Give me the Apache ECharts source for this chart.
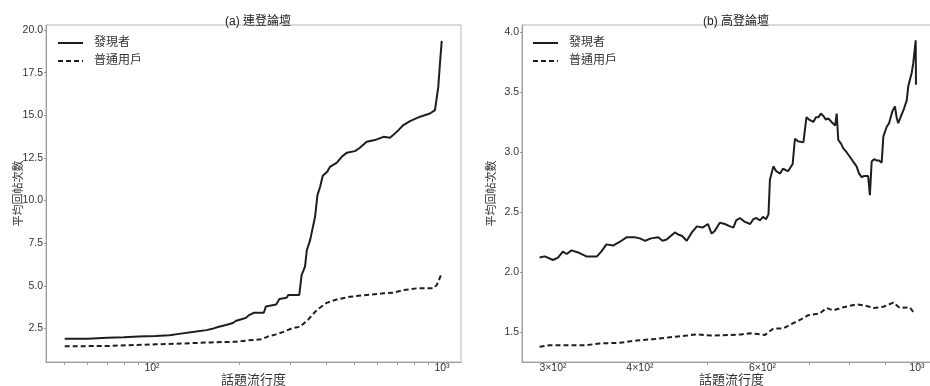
<!DOCTYPE html>
<html>
<head>
<meta charset="utf-8">
<script src="https://cdn.jsdelivr.net/npm/echarts@6/dist/echarts.min.js"></script>
<style>
  html, body { margin: 0; padding: 0; background: #fff; }
  #chart { width: 930px; height: 386px; }
</style>
</head>
<body>
<div id="chart"></div>
<script>
// Average reply count vs. topic popularity, two forums side by side.
const seriesNames = ['發現者', '普通用戶'];
const panelTitles = ['(a) 連登論壇', '(b) 高登論壇'];
const xAxisName = '話題流行度';
const yAxisName = '平均回帖次數';

// Panel (a): [popularity, average replies]
const lihkgDiscoverer = [
  [50, 1.90], [60, 1.90], [70, 1.95], [80, 1.98], [90, 2.02], [103, 2.05], [115, 2.10],
  [124, 2.18], [140, 2.30], [154, 2.40], [163, 2.50], [170, 2.60], [180, 2.70], [190, 2.82],
  [195, 2.95], [205, 3.05], [211, 3.12], [216, 3.28], [225, 3.42], [243, 3.42], [247, 3.78],
  [268, 3.90], [275, 4.22], [291, 4.30], [295, 4.46], [322, 4.46], [328, 5.63], [337, 6.12],
  [342, 7.10], [351, 7.68], [365, 9.05], [372, 10.32], [380, 10.81], [388, 11.45], [402, 11.69],
  [411, 11.98], [434, 12.22], [451, 12.57], [469, 12.80], [501, 12.90], [521, 13.10], [550, 13.45],
  [587, 13.55], [628, 13.74], [662, 13.68], [698, 14.03], [736, 14.43], [776, 14.66], [840, 14.92],
  [909, 15.11], [946, 15.31], [971, 16.67], [984, 18.04], [998, 19.37]
];
const lihkgRegular = [
  [50, 1.45], [70, 1.47], [103, 1.57], [130, 1.62], [160, 1.68], [196, 1.72], [215, 1.80],
  [239, 1.86], [253, 2.05], [268, 2.15], [284, 2.30], [303, 2.50], [324, 2.60], [346, 3.03],
  [370, 3.58], [400, 4.00], [434, 4.20], [482, 4.36], [550, 4.46], [628, 4.56], [679, 4.59],
  [736, 4.75], [818, 4.85], [933, 4.85], [959, 5.04], [998, 5.73]
];
const lihkgXLabelValues = [100, 1000];
const lihkgXLabels = ['10²', '10³'];
const lihkgXTickValues = [50, 60, 70, 80, 90, 100, 200, 300, 400, 500, 600, 700, 800, 900, 1000];
const lihkgYTicks = [2.5, 5, 7.5, 10, 12.5, 15, 17.5, 20];

// Panel (b): [popularity, average replies]
const hkgDiscoverer = [
  [287, 2.12], [292, 2.13], [300, 2.10], [305, 2.12], [310, 2.17], [314, 2.15], [319, 2.18],
  [327, 2.16], [335, 2.13], [347, 2.13], [352, 2.17], [358, 2.23], [366, 2.22], [374, 2.25],
  [383, 2.29], [393, 2.29], [400, 2.28], [407, 2.26], [415, 2.28], [425, 2.29], [431, 2.26],
  [437, 2.27], [449, 2.33], [455, 2.31], [460, 2.30], [467, 2.26], [475, 2.33], [483, 2.38],
  [492, 2.37], [501, 2.40], [507, 2.32], [512, 2.34], [521, 2.41], [530, 2.40], [539, 2.38],
  [545, 2.37], [550, 2.43], [557, 2.45], [565, 2.42], [576, 2.40], [582, 2.44], [588, 2.45],
  [595, 2.43], [601, 2.46], [607, 2.44], [612, 2.48], [615, 2.77], [622, 2.88], [628, 2.84],
  [636, 2.82], [642, 2.86], [646, 2.85], [653, 2.84], [663, 2.90], [668, 3.11], [675, 3.09],
  [687, 3.08], [694, 3.29], [700, 3.27], [710, 3.25], [716, 3.29], [722, 3.29], [728, 3.32],
  [734, 3.30], [740, 3.27], [746, 3.28], [754, 3.25], [763, 3.22], [767, 3.32], [771, 3.10],
  [778, 3.07], [784, 3.03], [792, 3.00], [801, 2.96], [810, 2.92], [819, 2.88], [826, 2.82],
  [833, 2.79], [840, 2.80], [851, 2.80], [856, 2.64], [861, 2.92], [868, 2.94], [875, 2.93],
  [882, 2.93], [890, 2.91], [895, 3.13], [905, 3.21], [912, 3.24], [922, 3.34], [930, 3.38],
  [935, 3.29], [940, 3.24], [946, 3.28], [951, 3.27], [958, 3.36], [967, 3.43], [972, 3.55],
  [977, 3.60], [983, 3.66], [988, 3.74], [993, 3.86], [996, 3.93], [997, 3.56]
];
const hkgRegular = [
  [287, 1.378], [297, 1.39], [317, 1.39], [335, 1.39], [350, 1.405], [374, 1.41], [396, 1.43],
  [418, 1.44], [442, 1.456], [467, 1.47], [483, 1.48], [507, 1.47], [539, 1.475], [560, 1.48],
  [576, 1.49], [605, 1.475], [622, 1.53], [643, 1.53], [657, 1.56], [679, 1.60], [698, 1.64],
  [725, 1.655], [742, 1.70], [758, 1.68], [784, 1.706], [819, 1.73], [847, 1.717], [866, 1.70],
  [895, 1.71], [925, 1.745], [945, 1.70], [977, 1.706], [993, 1.65]
];
const hkgXLabelValues = [300, 400, 600, 1000];
const hkgXLabels = ['3×10²', '4×10²', '6×10²', '10³'];
const hkgXTickValues = [300, 400, 500, 600, 700, 800, 900, 1000];
const hkgYTicks = [1.5, 2.0, 2.5, 3.0, 3.5, 4.0];

const FONT = "'Liberation Sans', 'Noto Sans CJK TC', sans-serif";
const AXIS_GRAY = '#9a9a9a';
const TEXT = '#333';
const LINE = '#1e1e1e';
const TICK_FONT = 10.5;

function labelLookup(values, labels) {
  return function (v) {
    for (let i = 0; i < values.length; i++) {
      if (Math.abs(values[i] - v) / values[i] < 1e-6) return labels[i];
    }
    return '';
  };
}

function xAxisFor(gridIndex, min, max, tickValues, labelValues, labels) {
  return {
    type: 'log', logBase: 10, gridIndex, min, max,
    name: xAxisName, nameLocation: 'middle', nameGap: 12, nameMoveOverlap: false,
    nameTextStyle: { fontSize: 13, color: TEXT, fontFamily: FONT },
    axisLine: { show: true, lineStyle: { color: AXIS_GRAY, width: 1 } },
    axisTick: { show: true, customValues: tickValues, length: 3, inside: false,
      lineStyle: { color: AXIS_GRAY } },
    minorTick: { show: false },
    axisLabel: { customValues: labelValues, formatter: labelLookup(labelValues, labels),
      fontSize: TICK_FONT, color: TEXT, fontFamily: FONT, margin: 1 },
    splitLine: { show: false }
  };
}

function yAxisFor(gridIndex, min, max, ticks, gap) {
  return {
    type: 'value', gridIndex, min, max,
    name: yAxisName, nameLocation: 'middle', nameGap: gap, nameRotate: 90, nameMoveOverlap: false,
    nameTextStyle: { fontSize: 11, color: TEXT, fontFamily: FONT },
    axisLine: { show: true, lineStyle: { color: AXIS_GRAY, width: 1 } },
    axisTick: { show: true, customValues: ticks, length: 2, lineStyle: { color: AXIS_GRAY } },
    axisLabel: { customValues: ticks, formatter: v => v.toFixed(1),
      fontSize: TICK_FONT, color: TEXT, fontFamily: FONT, margin: 3 },
    splitLine: { show: false }
  };
}

function lineSeries(name, data, idx, dashed) {
  return {
    name, type: 'line', data, xAxisIndex: idx, yAxisIndex: idx,
    showSymbol: false, symbol: 'none', smooth: false, animation: false,
    lineStyle: { color: LINE, width: 2, type: dashed ? [5, 3] : 'solid' },
    itemStyle: { color: LINE }
  };
}

function legendFor(left) {
  return {
    left, top: 37, orient: 'vertical', padding: 0,
    itemWidth: 25, itemHeight: 10, itemGap: 6,
    data: seriesNames,
    itemStyle: { opacity: 0 },
    lineStyle: { width: 2 },
    textStyle: { fontSize: 12, color: TEXT, fontFamily: FONT, padding: [0, 0, 0, 6] },
    selectedMode: false
  };
}

const gridBase = { top: 25, bottom: 24, show: true, borderColor: '#b5b5b5', borderWidth: 1,
  containLabel: false, outerBoundsMode: 'none' };

const chart = echarts.init(document.getElementById('chart'), null, { renderer: 'canvas' });
chart.setOption({
  animation: false,
  backgroundColor: '#fff',
  textStyle: { fontFamily: FONT },
  title: [
    { text: panelTitles[0], left: 253, top: 11, textAlign: 'center',
      textStyle: { fontSize: 12, fontWeight: 'normal', color: '#222', fontFamily: FONT } },
    { text: panelTitles[1], left: 731, top: 11, textAlign: 'center',
      textStyle: { fontSize: 12, fontWeight: 'normal', color: '#222', fontFamily: FONT } }
  ],
  legend: [legendFor(57), legendFor(532)],
  grid: [
    Object.assign({ left: 46, right: 469 }, gridBase),
    Object.assign({ left: 522, right: -11 }, gridBase)
  ],
  xAxis: [
    xAxisFor(0, 43.1, 1163, lihkgXTickValues, lihkgXLabelValues, lihkgXLabels),
    xAxisFor(1, 270.8, 1083, hkgXTickValues, hkgXLabelValues, hkgXLabels)
  ],
  yAxis: [
    yAxisFor(0, 0.53, 20.3, lihkgYTicks, 22),
    yAxisFor(1, 1.25, 4.058, hkgYTicks, 25)
  ],
  series: [
    lineSeries(seriesNames[0], lihkgDiscoverer, 0, false),
    lineSeries(seriesNames[1], lihkgRegular, 0, true),
    lineSeries(seriesNames[0], hkgDiscoverer, 1, false),
    lineSeries(seriesNames[1], hkgRegular, 1, true)
  ]
});
</script>
</body>
</html>
